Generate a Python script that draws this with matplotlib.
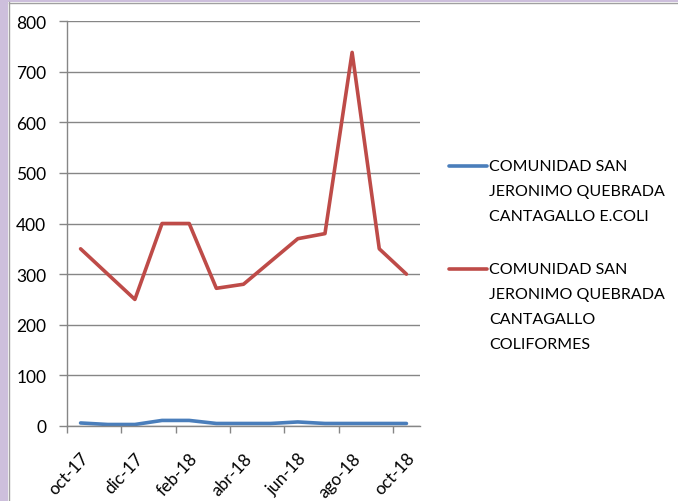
import numpy as np
import matplotlib
matplotlib.use("Agg")
import matplotlib.pyplot as plt
from matplotlib.lines import Line2D
from matplotlib.patches import Rectangle

plt.rcParams['font.family'] = ['Lato', 'DejaVu Sans']

months = ["oct-17", "nov-17", "dic-17", "ene-18", "feb-18", "mar-18", "abr-18",
          "may-18", "jun-18", "jul-18", "ago-18", "sep-18", "oct-18"]
ecoli = [6, 3, 3, 11, 11, 5, 5, 5, 8, 5, 5, 5, 5]
coliformes = [350, 300, 250, 400, 400, 272, 280, 325, 370, 380, 738, 350, 300]
yticks = [0, 100, 200, 300, 400, 500, 600, 700, 800]

label_ecoli = "COMUNIDAD SAN\nJERONIMO QUEBRADA\nCANTAGALLO E.COLI"
label_coli = "COMUNIDAD SAN\nJERONIMO QUEBRADA\nCANTAGALLO\nCOLIFORMES"

blue = "#4A7EBB"
red = "#BE4B48"
gray = "#868686"

W, H = 678, 502
fig = plt.figure(figsize=(W / 100, H / 100), dpi=100)
fig.patch.set_facecolor("white")

# purple frame on the left and top, like the screenshot
fig.add_artist(Rectangle((0, 0), 8 / W, 1, transform=fig.transFigure,
                         facecolor="#CDBFDC", edgecolor="none"))
fig.add_artist(Rectangle((0, 1 - 3 / H), 1, 3 / H, transform=fig.transFigure,
                         facecolor="#CDBFDC", edgecolor="none"))
fig.add_artist(Line2D([8.5 / W, 8.5 / W], [0, 1 - 3 / H], transform=fig.transFigure,
                      color="#A0A0A0", lw=1))
fig.add_artist(Line2D([8.5 / W, 1], [1 - 3.5 / H, 1 - 3.5 / H], transform=fig.transFigure,
                      color="#A0A0A0", lw=1))

ax = fig.add_axes([67 / W, 75 / H, (420 - 67) / W, (427 - 22) / H])
x = np.arange(len(months))
ax.plot(x, ecoli, color=blue, lw=2.6, solid_capstyle="round", solid_joinstyle="round")
ax.plot(x, coliformes, color=red, lw=2.6, solid_capstyle="round", solid_joinstyle="round")

ax.set_xlim(-0.5, len(months) - 0.5)
ax.set_ylim(0, 800)
ax.set_yticks(yticks)
ax.yaxis.grid(True, color=gray, lw=1)
ax.set_axisbelow(True)

for s in ["top", "right"]:
    ax.spines[s].set_visible(False)
for s in ["left", "bottom"]:
    ax.spines[s].set_color(gray)
    ax.spines[s].set_linewidth(1)

# tick marks between categories, labels on every second category
ax.set_xticks(np.arange(-0.5, len(months) - 1, 2))
ax.set_xticklabels([])
ax.set_xticks(x[::2], minor=True)
ax.set_xticklabels(months[::2], minor=True, rotation=47, ha="right",
                   rotation_mode="anchor", fontsize=12.3)
ax.tick_params(axis="x", which="major", length=5, color=gray, width=1)
ax.tick_params(axis="x", which="minor", length=0, pad=17)
ax.tick_params(axis="y", length=6, color=gray, width=1, pad=9, labelsize=12.5)

# legend drawn by hand so the line sits on the first text row
for ly, col, lab in [(167, blue, label_ecoli), (270, red, label_coli)]:
    fig.add_artist(Line2D([449 / W, 487 / W], [1 - ly / H, 1 - ly / H],
                          transform=fig.transFigure, color=col, lw=2.6,
                          solid_capstyle="round"))
    fig.text(489 / W, 1 - (ly - 7) / H, lab, fontsize=11.5, va="top", ha="left",
             linespacing=2.0)

fig.savefig("out.png", dpi=100)
